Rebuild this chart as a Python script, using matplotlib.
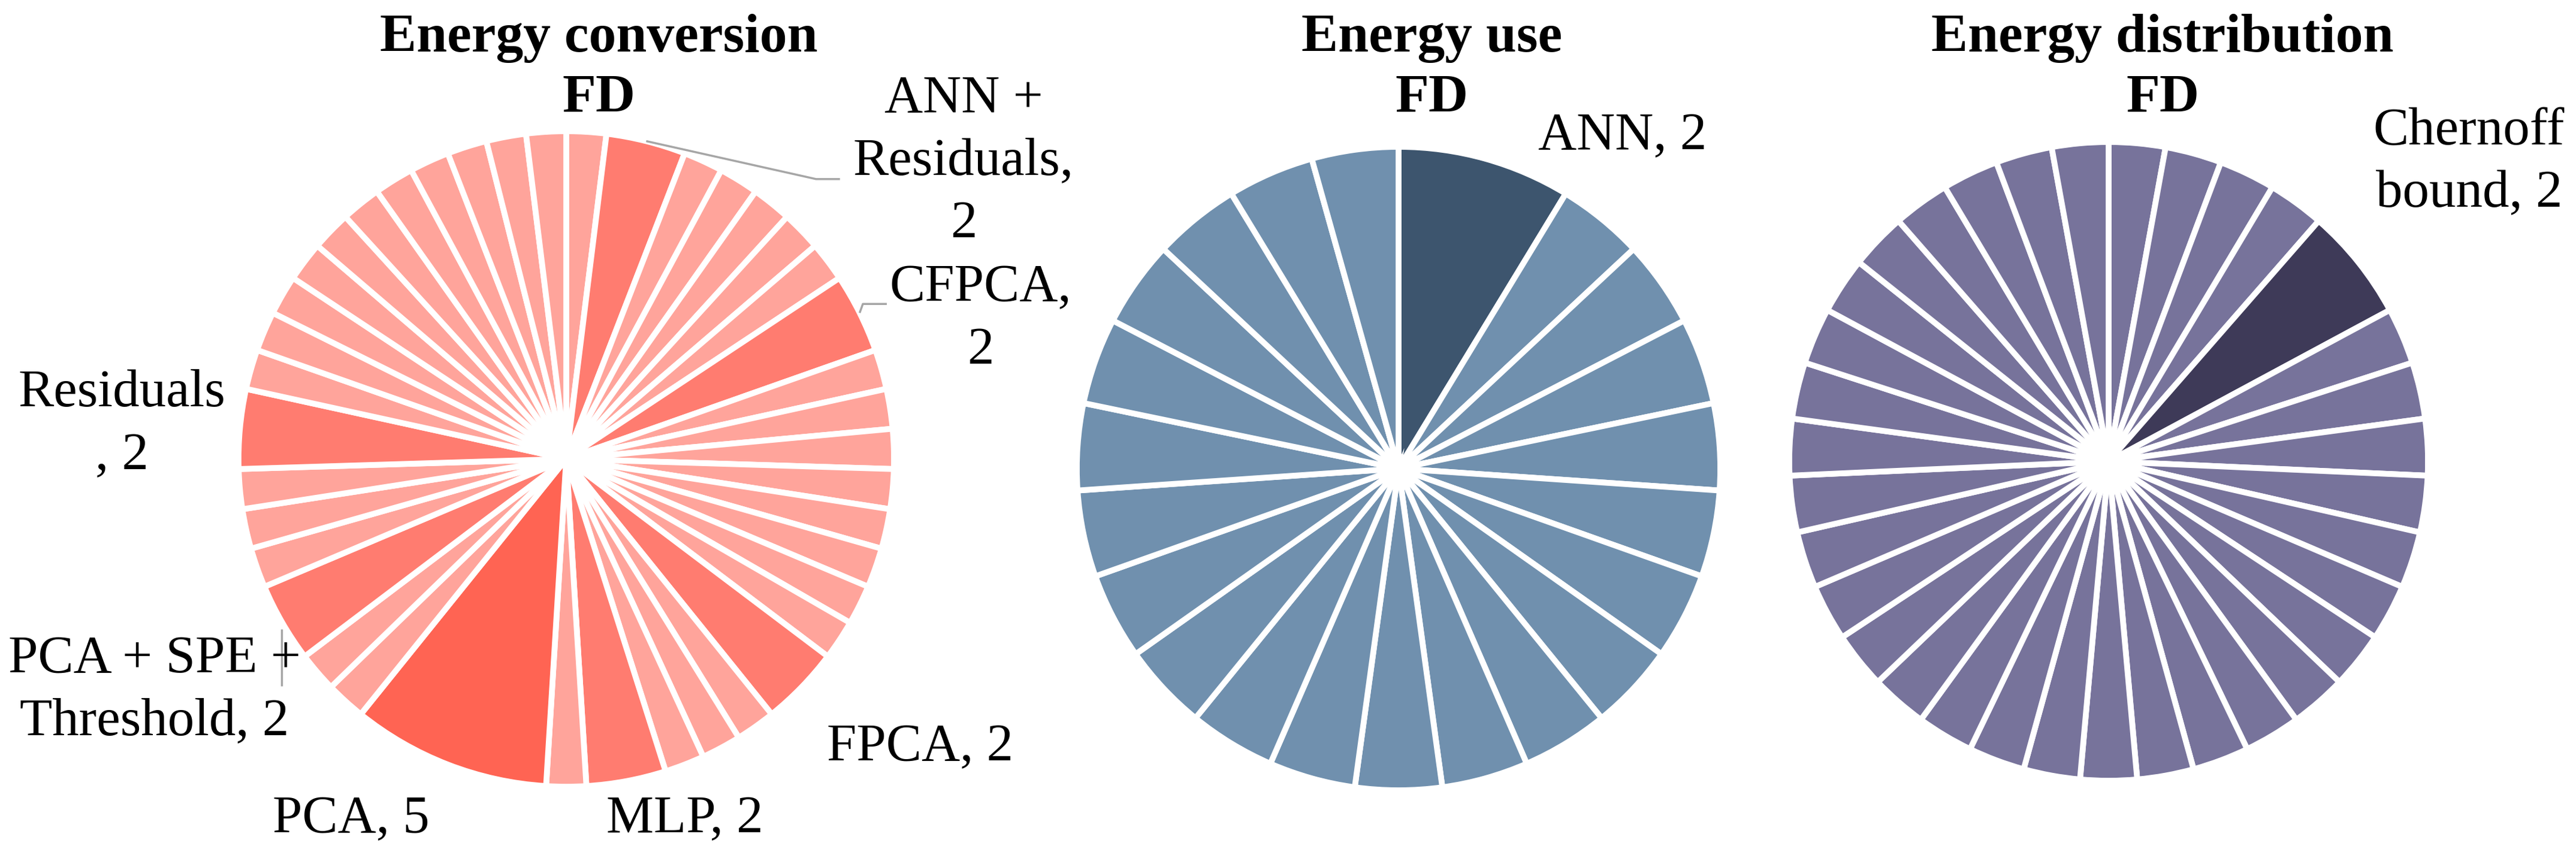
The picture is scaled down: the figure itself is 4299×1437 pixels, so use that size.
import matplotlib
matplotlib.use('Agg')
import matplotlib.pyplot as plt
import numpy as np

plt.rcParams['font.family'] = ['Liberation Serif', 'DejaVu Serif']

# ---- data: Energy conversion / FD (clockwise from 12 o'clock) ----
conv_values = [1, 2, 1, 1, 1, 1, 1, 2, 1, 1, 1, 1, 1, 1, 1, 1, 2, 1, 1, 1, 2,
               1, 5, 1, 1, 2, 1, 1, 1, 2, 1, 1, 1, 1, 1, 1, 1, 1, 1, 1, 1]
conv_names = ['', 'ANN + Residuals', '', '', '', '', '', 'CFPCA', '', '', '', '', '', '', '', '',
              'FPCA', '', '', '', 'MLP', '', 'PCA', '', '', 'PCA + SPE + Threshold', '', '', '',
              'Residuals', '', '', '', '', '', '', '', '', '', '', '']
# label text as wrapped in the original
conv_text = {'ANN + Residuals': 'ANN +\nResiduals,\n2',
             'CFPCA': 'CFPCA,\n2',
             'FPCA': 'FPCA, 2',
             'MLP': 'MLP, 2',
             'PCA': 'PCA, 5',
             'PCA + SPE + Threshold': 'PCA + SPE +\nThreshold, 2',
             'Residuals': 'Residuals\n, 2'}

# ---- data: Energy use / FD ----
use_values = [2, 1, 1, 1, 1, 1, 1, 1, 1, 1, 1, 1, 1, 1, 1, 1, 1, 1, 1, 1, 1, 1]
use_names = ['ANN', '', '', '', '', '', '', '', '', '', '', '', '', '', '', '', '', '', '', '', '', '']
use_text = {'ANN': 'ANN, 2'}

# ---- data: Energy distribution / FD ----
dist_values = [1, 1, 1, 1, 2, 1, 1, 1, 1, 1, 1, 1, 1, 1, 1, 1, 1, 1, 1, 1, 1, 1, 1, 1,
               1, 1, 1, 1, 1, 1, 1, 1, 1, 1]
dist_names = ['', '', '', '', 'Chernoff bound', '', '', '', '', '', '', '', '', '', '', '', '',
              '', '', '', '', '', '', '', '', '', '', '', '', '', '', '', '', '']
dist_text = {'Chernoff bound': 'Chernoff\nbound, 2'}

titles = ['Energy conversion\nFD', 'Energy use\nFD', 'Energy distribution\nFD']

# colours by value
conv_colors = {1: '#FFA49B', 2: '#FF7C70', 5: '#FF6453'}
use_colors = {1: '#7090AE', 2: '#3D556E'}
dist_colors = {1: '#77739B', 2: '#3E3A58'}

W, H = 4299, 1437
fig = plt.figure(figsize=(W / 100, H / 100), dpi=100)
fig.patch.set_facecolor('white')


def pie_axes(cx, cy, r):
    r = r + 4
    ax = fig.add_axes([(cx - r) / W, 1 - (cy + r) / H, 2 * r / W, 2 * r / H])
    return ax


def draw(ax, values, names, cmap):
    cols = [cmap[v] for v in values]
    wedges, _ = ax.pie(values, colors=cols, startangle=90, counterclock=False, radius=1,
                       wedgeprops=dict(edgecolor='white', linewidth=7))
    ax.set_xlim(-1, 1)
    ax.set_ylim(-1, 1)
    ax.axis('off')
    return {n: w for n, w in zip(names, wedges) if n}


def edge_point(w):
    a = np.deg2rad((w.theta1 + w.theta2) / 2)
    return np.cos(a), np.sin(a)


label_kw = dict(fontsize=64, ha='center', va='center', linespacing=1.38, color='black')
lead_kw = dict(color='#A6A6A6', lw=2.5, clip_on=False, solid_capstyle='butt')

# chart 1
ax1 = pie_axes(945, 766, 543)
w1 = draw(ax1, conv_values, conv_names, conv_colors)
pos1 = {'ANN + Residuals': (1.212, 0.907), 'CFPCA': (1.263, 0.426), 'FPCA': (1.080, -0.881),
        'MLP': (0.362, -1.099), 'PCA': (-0.656, -1.099),
        'PCA + SPE + Threshold': (-1.256, -0.706), 'Residuals': (-1.355, 0.104)}
for n, (x, y) in pos1.items():
    ax1.text(x, y, conv_text[n], **label_kw)
# leader lines
ex, ey = edge_point(w1['ANN + Residuals'])
ax1.plot([ex, 0.762, 0.835], [ey, 0.854, 0.854], **lead_kw)
ex, ey = edge_point(w1['CFPCA'])
ax1.plot([ex, 0.905, 0.978], [ey, 0.473, 0.473], **lead_kw)
ex, ey = edge_point(w1['PCA + SPE + Threshold'])
ax1.plot([-0.868, -0.868], [ey - 0.02, -0.693], **lead_kw)

# chart 2
ax2 = pie_axes(2334, 782, 533)
w2 = draw(ax2, use_values, use_names, use_colors)
ax2.text(0.695, 1.032, use_text['ANN'], **label_kw)

# chart 3
ax3 = pie_axes(3519, 770, 529)
w3 = draw(ax3, dist_values, dist_names, dist_colors)
ax3.text(1.128, 0.936, dist_text['Chernoff bound'], **label_kw)

# titles
for t, x in zip(titles, [999, 2390, 3609]):
    fig.text(x / W, 1 - 114 / H, t, ha='center', va='center', fontsize=66,
             fontweight='bold', linespacing=1.3)

fig.savefig('out.png', dpi=100, facecolor='white')
